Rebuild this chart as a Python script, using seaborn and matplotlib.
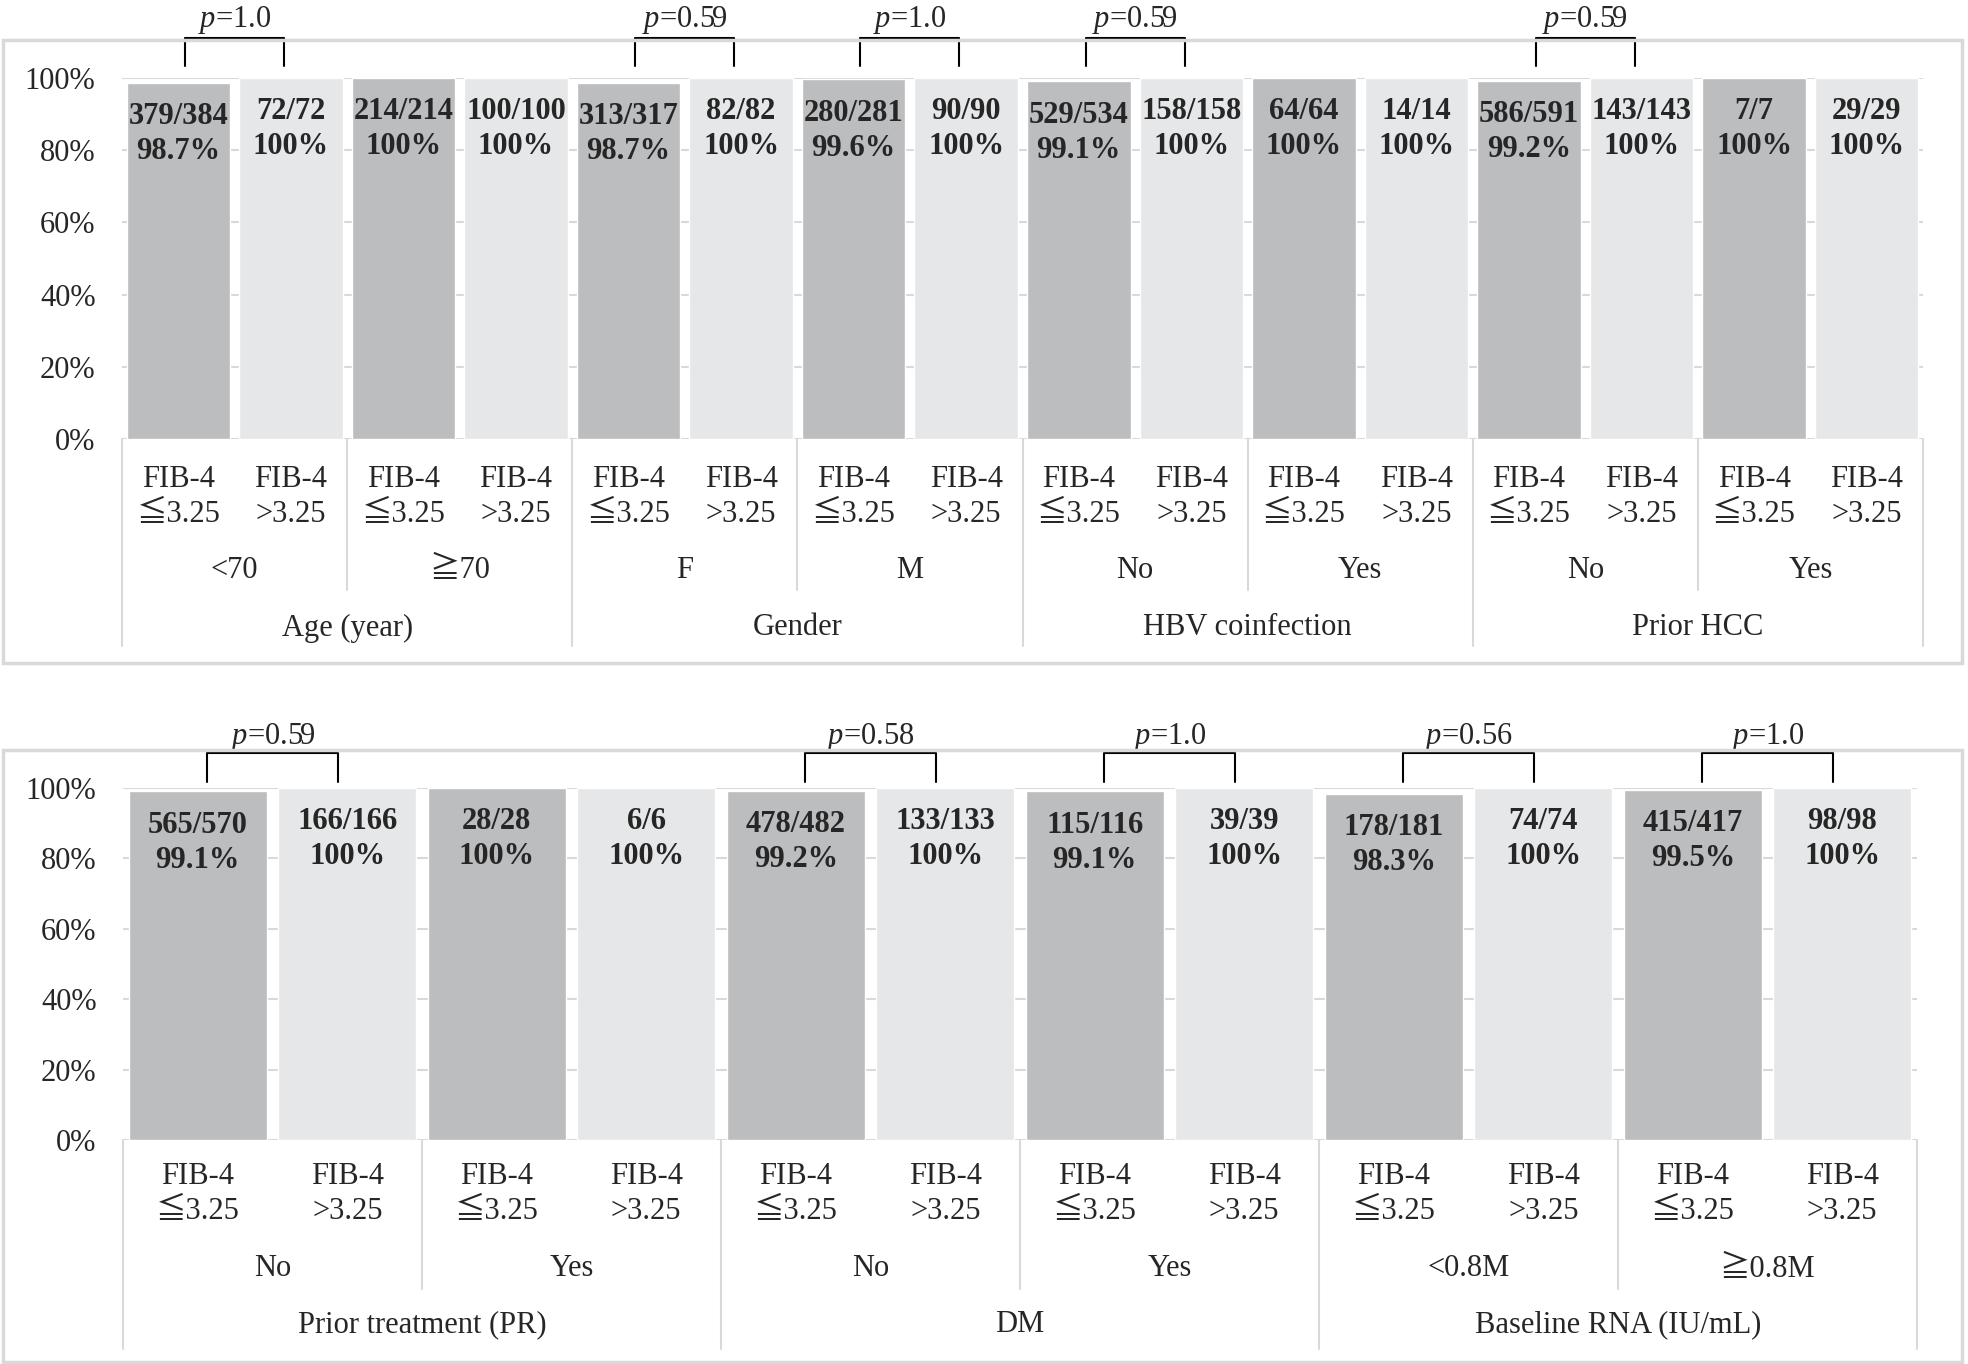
import matplotlib
matplotlib.use('Agg')
import matplotlib.pyplot as plt
import matplotlib.patches as mpatches
import seaborn as sns
import pandas as pd

# ---- data ----
fib_labels = ['FIB-4\n≦3.25', 'FIB-4\n>3.25']

top_groups = ['Age (year)', 'Gender', 'HBV coinfection', 'Prior HCC']
top_subgroups = ['<70', '≧70', 'F', 'M', 'No', 'Yes', 'No', 'Yes']
top_counts = ['379/384', '72/72', '214/214', '100/100', '313/317', '82/82', '280/281', '90/90',
              '529/534', '158/158', '64/64', '14/14', '586/591', '143/143', '7/7', '29/29']
top_rates = [98.7, 100, 100, 100, 98.7, 100, 99.6, 100,
             99.1, 100, 100, 100, 99.2, 100, 100, 100]
top_pct = ['98.7%', '100%', '100%', '100%', '98.7%', '100%', '99.6%', '100%',
           '99.1%', '100%', '100%', '100%', '99.2%', '100%', '100%', '100%']
top_pvalues = ['1.0', None, '0.59', '1.0', '0.59', None, '0.59', None]

bottom_groups = ['Prior treatment (PR)', 'DM', 'Baseline RNA (IU/mL)']
bottom_subgroups = ['No', 'Yes', 'No', 'Yes', '<0.8M', '≧0.8M']
bottom_counts = ['565/570', '166/166', '28/28', '6/6', '478/482', '133/133',
                 '115/116', '39/39', '178/181', '74/74', '415/417', '98/98']
bottom_rates = [99.1, 100, 100, 100, 99.2, 100, 99.1, 100, 98.3, 100, 99.5, 100]
bottom_pct = ['99.1%', '100%', '100%', '100%', '99.2%', '100%',
              '99.1%', '100%', '98.3%', '100%', '99.5%', '100%']
bottom_pvalues = ['0.59', None, '0.58', '1.0', '0.56', '1.0']

DARK = '#BCBDBF'
LIGHT = '#E6E7E8'
LINE = '#D9D9D9'
FS = 22

sns.set_style('white')
plt.rcParams['font.family'] = ['Liberation Serif', 'Noto Sans CJK TC', 'DejaVu Serif']
plt.rcParams['mathtext.fontset'] = 'custom'
plt.rcParams['mathtext.rm'] = 'Liberation Serif'
plt.rcParams['mathtext.it'] = 'Liberation Serif:italic'

W, H = 1968, 1364
fig = plt.figure(figsize=(W / 100, H / 100), dpi=100)


def px_axes(left, top, right, bottom):
    return fig.add_axes([left / W, 1 - bottom / H, (right - left) / W, (bottom - top) / H])


def draw_panel(ax, groups, subgroups, counts, rates, pct, pvalues, box, offs, bracket):
    n = len(rates)
    slots = [f's{i:02d}' for i in range(n)]
    df = pd.DataFrame({'slot': slots, 'rate': rates,
                       'fib': ['low' if i % 2 == 0 else 'high' for i in range(n)]})
    sns.barplot(data=df, x='slot', y='rate', hue='fib', hue_order=['low', 'high'],
                order=slots, palette=[DARK, LIGHT], dodge=False, width=0.92,
                saturation=1, legend=False, ax=ax)
    ax.set_xlim(-0.5, n - 0.5)
    ax.set_ylim(0, 100)
    ax.set_yticks(range(0, 101, 20))
    ax.set_yticklabels([f'{v}%' for v in range(0, 101, 20)], fontsize=FS)
    ax.tick_params(axis='y', length=0, pad=19)
    ax.set_xticks([])
    ax.set_xlabel('')
    ax.set_ylabel('')
    ax.yaxis.grid(True, color=LINE, lw=1.5)
    ax.set_axisbelow(True)
    for s in ax.spines.values():
        s.set_visible(False)

    h_px = box[3] - box[1]
    tr = ax.get_xaxis_transform()
    fy = lambda px: -px / h_px

    # value labels
    for i in range(n):
        ax.annotate(f'{counts[i]}\n{pct[i]}', xy=(i, rates[i]), xytext=(0, -37),
                    textcoords='offset points', ha='center', va='center',
                    fontsize=FS, fontweight='bold', linespacing=1.27)

    # category labels
    for i in range(n):
        ax.text(i, fy(offs['fib']), fib_labels[i % 2], transform=tr, ha='center',
                va='center', fontsize=FS, linespacing=1.27)
    for j, lab in enumerate(subgroups):
        ax.text(2 * j + 0.5, fy(offs['sub']), lab, transform=tr, ha='center',
                va='center', fontsize=FS)
    for k, lab in enumerate(groups):
        ax.text(4 * k + 1.5, fy(offs['grp']), lab, transform=tr, ha='center',
                va='center', fontsize=FS)

    # separators
    for j in range(1, len(subgroups)):
        if j % 2:
            x = 2 * j - 0.5
            ax.plot([x, x], [0, fy(offs['sub_line'])], transform=tr, color=LINE,
                    lw=1.5, clip_on=False)
    for k in range(len(groups) + 1):
        x = 4 * k - 0.5
        ax.plot([x, x], [0, fy(offs['grp_line'])], transform=tr, color=LINE,
                lw=1.5, clip_on=False)

    # p-value brackets
    y_top, y_leg, y_txt = bracket
    for j, p in enumerate(pvalues):
        if p is None:
            continue
        x1, x2 = 2 * j + 0.06, 2 * j + 0.94
        ax.plot([x1, x1, x2, x2], [y_leg, y_top, y_top, y_leg], color='black',
                lw=1.5, clip_on=False)
        ax.text(2 * j + 0.5, y_txt, r'$\mathit{p}$=' + p, ha='center', va='center',
                fontsize=FS, clip_on=False)


# outer frames
for (x0, y0, x1, y1) in [(3, 40, 1962, 663), (3, 750, 1962, 1362)]:
    fig.patches.append(mpatches.Rectangle((x0 / W, 1 - y1 / H), (x1 - x0) / W, (y1 - y0) / H,
                                          transform=fig.transFigure, fill=False,
                                          edgecolor=LINE, lw=2.5))

top_box = (122, 78, 1923, 439)
ax_top = px_axes(*top_box)
draw_panel(ax_top, top_groups, top_subgroups, top_counts, top_rates, top_pct, top_pvalues,
           top_box, {'fib': 58, 'sub': 132, 'grp': 189, 'sub_line': 151, 'grp_line': 207},
           (111.0, 103.2, 116.0))

bottom_box = (123, 788, 1917, 1140)
ax_bot = px_axes(*bottom_box)
draw_panel(ax_bot, bottom_groups, bottom_subgroups, bottom_counts, bottom_rates, bottom_pct,
           bottom_pvalues, bottom_box,
           {'fib': 54, 'sub': 129, 'grp': 185, 'sub_line': 149, 'grp_line': 209},
           (110.0, 101.8, 114.4))

fig.savefig('out.png', dpi=100)
